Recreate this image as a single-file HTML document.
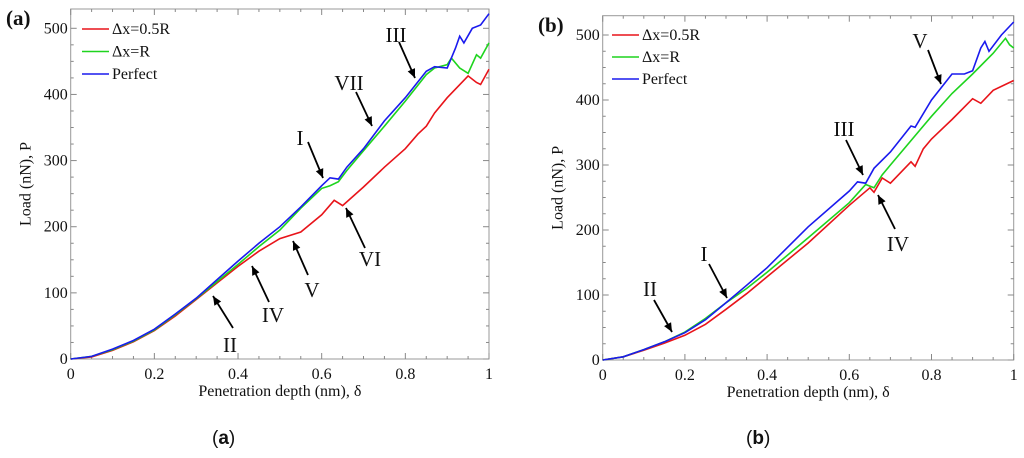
<!DOCTYPE html>
<html><head><meta charset="utf-8">
<style>
body{margin:0;background:#fff;width:1024px;height:453px;overflow:hidden}
</style></head>
<body>
<svg id="fig" width="1024" height="453" font-family="'Liberation Serif', 'DejaVu Serif', serif">
<text x="212" y="444" font-size="19" font-family="'Liberation Sans', sans-serif" fill="#111">(<tspan font-weight="bold">a</tspan>)</text>
<text x="746" y="444" font-size="19" font-family="'Liberation Sans', sans-serif" fill="#111">(<tspan font-weight="bold">b</tspan>)</text>
</svg>
<script>
// Panel (a) data
const xTicks=[0,0.2,0.4,0.6,0.8,1];
const xTickLabels=["0","0.2","0.4","0.6","0.8","1"];
const yTicks=[0,100,200,300,400,500];
const yTickLabels=["0","100","200","300","400","500"];
const seriesNames=["Δx=0.5R","Δx=R","Perfect"];
const aBlueX=[0,0.05,0.1,0.15,0.2,0.25,0.3,0.35,0.4,0.45,0.5,0.55,0.6,0.62,0.64,0.66,0.7,0.75,0.8,0.85,0.87,0.9,0.92,0.93,0.94,0.96,0.98,1];
const aBlueY=[0,4,15,28,45,68,92,120,148,175,200,230,262,274,272,290,318,360,395,435,442,440,470,488,478,500,505,522];
const aGreenX=[0,0.05,0.1,0.15,0.2,0.25,0.3,0.35,0.4,0.45,0.5,0.55,0.6,0.62,0.64,0.66,0.7,0.75,0.8,0.85,0.87,0.9,0.91,0.93,0.95,0.97,0.98,1];
const aGreenY=[0,4,14,27,44,67,91,117,143,170,195,228,258,262,268,285,315,352,390,430,440,445,455,440,432,460,455,478];
const aRedX=[0,0.05,0.1,0.15,0.2,0.25,0.3,0.35,0.4,0.45,0.5,0.55,0.6,0.63,0.65,0.7,0.75,0.8,0.83,0.85,0.87,0.9,0.95,0.97,0.98,1];
const aRedY=[0,3,13,26,43,65,90,115,140,163,182,192,218,240,232,260,290,318,340,352,372,395,428,418,415,438];
// Panel (b) data
const bBlueX=[0,0.05,0.1,0.15,0.2,0.25,0.3,0.35,0.4,0.5,0.6,0.62,0.64,0.66,0.7,0.75,0.76,0.8,0.85,0.88,0.9,0.92,0.93,0.94,0.97,1];
const bBlueY=[0,5,16,28,42,62,88,115,142,205,260,274,272,295,320,360,358,400,440,440,445,480,490,475,500,520];
const bGreenX=[0,0.05,0.1,0.15,0.2,0.25,0.3,0.35,0.4,0.5,0.6,0.64,0.66,0.68,0.7,0.8,0.85,0.9,0.95,0.98,0.99,1];
const bGreenY=[0,5,16,28,43,64,88,110,135,188,242,270,265,285,300,375,410,440,472,495,485,480];
const bRedX=[0,0.05,0.1,0.15,0.2,0.25,0.3,0.35,0.4,0.5,0.6,0.65,0.66,0.68,0.7,0.75,0.76,0.78,0.8,0.85,0.9,0.92,0.95,1];
const bRedY=[0,5,15,26,38,55,78,102,128,180,238,265,258,280,272,305,298,325,340,370,402,395,415,430];

const NS="http://www.w3.org/2000/svg";
const svg=document.getElementById('fig');
const SERIF="'Liberation Serif', 'DejaVu Serif', serif";
function el(tag,attrs,parent){const e=document.createElementNS(NS,tag);for(const k in attrs)e.setAttribute(k,attrs[k]);(parent||svg).appendChild(e);return e;}
function txt(attrs,parent){attrs['font-family']=SERIF;attrs.fill='#111';return el('text',attrs,parent);}
const colors=["#e8141a","#1ed41e","#1a1aee"];

function panel(P){
  const g=el('g',{});
  
  
  const sx=v=>P.x0+(P.x1-P.x0)*v;
  const sy=v=>P.y0-(P.y0-P.y500)*v/500;
  const frame=el('rect',{x:P.x0,y:P.top,width:P.x1-P.x0,height:P.y0-P.top,fill:'none',stroke:'#999','stroke-width':1},g);
  
  
  for(let i=0;i<=20;i++){const v=i/20,x=sx(v),L=i%4==0?6:3;
    el('line',{x1:x,x2:x,y1:P.y0,y2:P.y0-L,stroke:'#888'},g);el('line',{x1:x,x2:x,y1:P.top,y2:P.top+L,stroke:'#888'},g);}
  for(let v=0;v<=520;v+=25){const y=sy(v),L=v%100==0?6:3;if(y<P.top)continue;
    el('line',{x1:P.x0,x2:P.x0+L,y1:y,y2:y,stroke:'#888'},g);el('line',{x1:P.x1,x2:P.x1-L,y1:y,y2:y,stroke:'#888'},g);}
  xTicks.forEach((v,i)=>{const t=txt({x:sx(v),y:P.y0+20,'text-anchor':'middle','font-size':16},g);t.textContent=xTickLabels[i];
    });
  yTicks.forEach((v,i)=>{const t=txt({x:P.x0-3,y:sy(v)+5,'text-anchor':'end','font-size':16},g);t.textContent=yTickLabels[i];
    });
  const xt=txt({x:(P.x0+P.x1)/2,y:P.y0+37,'text-anchor':'middle','font-size':16},g);xt.textContent='Penetration depth (nm), δ';
  
  const yt=txt({x:0,y:0,'text-anchor':'middle','font-size':16,transform:`translate(${P.x0-40},${(P.y0+P.top)/2}) rotate(-90)`},g);yt.textContent='Load (nN), P';
  
  const pl=txt({x:P.lx,y:P.ly,'font-size':21,'font-weight':'bold'},g);pl.textContent='('+P.id+')';
  
  P.series.forEach((s,i)=>{const d=s[0].map((x,j)=>(j?'L':'M')+sx(x).toFixed(1)+','+sy(s[1][j]).toFixed(1)).join('');
    const p=el('path',{d:d,fill:'none',stroke:colors[i],'stroke-width':1.6},g);
    });
  seriesNames.forEach((n,i)=>{const y=P.legY+i*P.legDy;
    const l=el('line',{x1:P.legX,x2:P.legX+27,y1:y,y2:y,stroke:colors[i],'stroke-width':1.6},g);
    
    const t=txt({x:P.legX+30,y:y+5,'font-size':16},g);t.textContent=n;
    });
  P.ann.forEach(a=>{const t=txt({x:a[1],y:a[2],'text-anchor':'middle','font-size':21},g);t.textContent=a[0];
    
    const [x1,y1,x2,y2]=[a[3],a[4],a[5],a[6]];
    const ln=el('line',{x1,y1,x2,y2,stroke:'#000','stroke-width':1.8},g);
    
    const ang=Math.atan2(y2-y1,x2-x1),h=9,w=4;
    const bx=x2-h*Math.cos(ang),by=y2-h*Math.sin(ang);
    el('polygon',{points:`${x2},${y2} ${bx-w*Math.sin(ang)},${by+w*Math.cos(ang)} ${bx+w*Math.sin(ang)},${by-w*Math.cos(ang)}`,fill:'#000'},g);});
}
panel({id:'a',x0:70.7,x1:489,y0:359,y500:28.3,top:9,lx:6,ly:25,legX:82,legY:29,legDy:22.5,
  series:[[aRedX,aRedY],[aGreenX,aGreenY],[aBlueX,aBlueY]],
  ann:[['I',300,145,308,142,323,178],['VII',349,90,356,92,372,126],['III',396,42,399,42,415,78],
       ['II',230,352,233,328,213,296],['IV',273,322,269,302,252,266],['V',312,297,308,275,293,241],['VI',370,266,365,248,346,208]]});
panel({id:'b',x0:602.7,x1:1013.7,y0:360,y500:35,top:15.7,lx:538,ly:32,legX:612,legY:35,legDy:22,
  series:[[bRedX,bRedY],[bGreenX,bGreenY],[bBlueX,bBlueY]],
  ann:[['V',920,48,928,50,941,84],['III',844,136,846,140,863,175],['IV',898,251,895,229,878,195],
       ['I',704,261,709,264,727,298],['II',650,296,654,300,672,332]]});
</script>
</body></html>
